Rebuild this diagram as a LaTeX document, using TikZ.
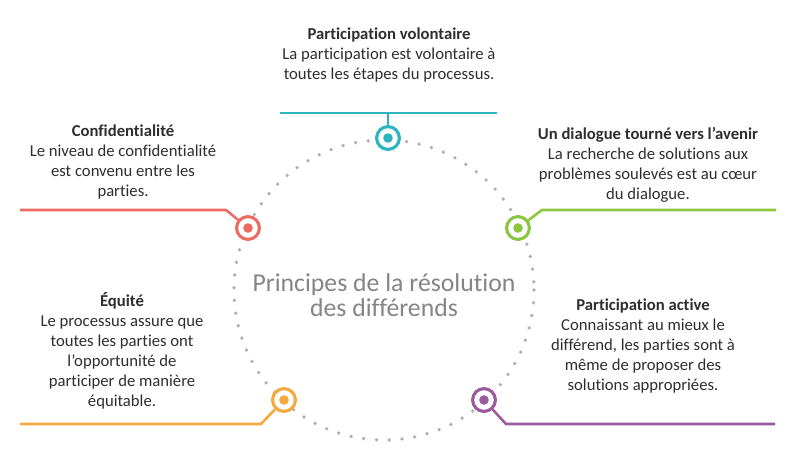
\documentclass[tikz,border=0pt]{standalone}
\usepackage{fontspec}
\setmainfont{Carlito}[Ligatures=NoCommon]
\definecolor{cteal}{HTML}{2CB5C0}
\definecolor{cred}{HTML}{EE6B63}
\definecolor{cgreen}{HTML}{8CC640}
\definecolor{corange}{HTML}{F4A93A}
\definecolor{cpurple}{HTML}{9C5A9E}
\definecolor{ctext}{HTML}{2E2E2E}
\definecolor{cgray}{HTML}{858585}
\definecolor{cdot}{HTML}{B0B0B0}
\begin{document}
\begin{tikzpicture}[x=0.75pt,y=-0.75pt,
  marker/.style={circle,draw=#1,fill=white,line width=2.2pt,minimum size=17pt,inner sep=0pt,
    path picture={\fill[#1] (path picture bounding box.center) circle (3.6pt);}},
  link/.style={draw=#1,line width=1.9pt},
  desc/.style={align=center,text=ctext,font=\fontsize{12.5}{15}\selectfont},
  hub/.style={align=center,text=cgray,font=\fontsize{19.3}{19}\selectfont}]
\useasboundingbox (0,0) rectangle (800,466);
\fill[white] (0,0) rectangle (800,466);
% dotted circle
\draw[cdot,line width=2.8pt,line cap=round,dash pattern=on 0pt off 9.6pt] (384,290) circle (150);
% hub
\node[hub] (hub) at (384,295) {Principes de la résolution\\des différends};
% markers
\node[marker=cteal] (m1) at (388,138) {};
\node[marker=cred] (m2) at (248,228) {};
\node[marker=cgreen] (m3) at (518,228) {};
\node[marker=corange] (m4) at (284,400) {};
\node[marker=cpurple] (m5) at (484,400) {};
% connectors
\coordinate (t1) at (388,113);
\coordinate (a1) at (280,113);
\coordinate (b1) at (497,113);
\draw[link=cteal] (a1) -- (b1);
\draw[link=cteal] (m1.north) -- (t1);
\coordinate (k2) at (226,210);
\coordinate (e2) at (20,210);
\draw[link=cred] (m2) -- (k2) -- (e2);
\coordinate (k3) at (542,210);
\coordinate (e3) at (776,210);
\draw[link=cgreen] (m3) -- (k3) -- (e3);
\coordinate (k4) at (261,424);
\coordinate (e4) at (20,424);
\draw[link=corange] (m4) -- (k4) -- (e4);
\coordinate (k5) at (506,424);
\coordinate (e5) at (775,424);
\draw[link=cpurple] (m5) -- (k5) -- (e5);
% redraw markers on top
\node[marker=cteal] at (m1) {};
\node[marker=cred] at (m2) {};
\node[marker=cgreen] at (m3) {};
\node[marker=corange] at (m4) {};
\node[marker=cpurple] at (m5) {};
% texts
\node[desc] (d1) at (389,55) {\textbf{Participation volontaire}\\La participation est volontaire à\\toutes les étapes du processus.};
\node[desc] (d2) at (123,162) {\textbf{Confidentialité}\\Le niveau de confidentialité\\est convenu entre les\\parties.};
\node[desc] (d3) at (648,165) {\textbf{Un dialogue tourné vers l’avenir}\\La recherche de solutions aux\\problèmes soulevés est au cœur\\du dialogue.};
\node[desc] (d4) at (122,351) {\textbf{Équité}\\Le processus assure que\\toutes les parties ont\\l’opportunité de\\participer de manière\\équitable.};
\node[desc] (d5) at (643,346) {\textbf{Participation active}\\Connaissant au mieux le\\différend, les parties sont à\\même de proposer des\\solutions appropriées.};
\end{tikzpicture}
\end{document}
